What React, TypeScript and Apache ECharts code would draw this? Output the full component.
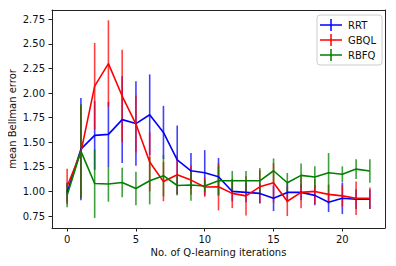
import React, { useEffect, useRef } from "react";
import * as echarts from "echarts";

const iterations = [0, 1, 2, 3, 4, 5, 6, 7, 8, 9, 10, 11, 12, 13, 14, 15, 16, 17, 18, 19, 20, 21, 22];

const rrtMean = [0.99, 1.43, 1.57, 1.58, 1.73, 1.69, 1.78, 1.6, 1.32, 1.21, 1.19, 1.15, 1.0, 0.99, 0.98, 0.93, 0.99, 0.99, 0.96, 0.89, 0.93, 0.92, 0.92];
const rrtErr = [0.1, 0.52, 0.35, 0.33, 0.44, 0.43, 0.41, 0.27, 0.35, 0.18, 0.23, 0.19, 0.1, 0.1, 0.1, 0.13, 0.1, 0.08, 0.1, 0.1, 0.16, 0.1, 0.1];

const gbqlMean = [1.05, 1.4, 2.07, 2.3, 1.97, 1.685, 1.3, 1.1, 1.17, 1.115, 1.045, 1.047, 0.98, 0.955, 1.047, 1.088, 0.9, 0.99, 1.0, 0.97, 0.955, 0.93, 0.93];
const gbqlErr = [0.18, 0.47, 0.44, 0.44, 0.47, 0.29, 0.3, 0.2, 0.2, 0.15, 0.1, 0.24, 0.15, 0.2, 0.17, 0.2, 0.15, 0.16, 0.13, 0.1, 0.11, 0.17, 0.11];

const rbfqMean = [0.96, 1.41, 1.08, 1.075, 1.09, 1.03, 1.108, 1.16, 1.06, 1.065, 1.055, 1.108, 1.108, 1.108, 1.108, 1.21, 1.088, 1.163, 1.146, 1.19, 1.175, 1.227, 1.207];
const rbfqErr = [0.12, 0.48, 0.35, 0.18, 0.15, 0.17, 0.24, 0.21, 0.1, 0.16, 0.06, 0.15, 0.1, 0.1, 0.13, 0.125, 0.1, 0.12, 0.11, 0.2, 0.08, 0.1, 0.12];

const xTicks = [0, 5, 10, 15, 20];
const yTicks = [0.75, 1.0, 1.25, 1.5, 1.75, 2.0, 2.25, 2.5, 2.75];

const seriesDefs = [
  { name: "RRT", mean: rrtMean, err: rrtErr, color: "#0000ff" },
  { name: "GBQL", mean: gbqlMean, err: gbqlErr, color: "#ff0000" },
  { name: "RBFQ", mean: rbfqMean, err: rbfqErr, color: "#008000" },
];

const FONT = "DejaVu Sans";
const legendIcon =
  "path://M0,5.25 L22,5.25 L22,6.75 L0,6.75 Z M10.25,0 L11.75,0 L11.75,12 L10.25,12 Z";

const X_MIN = -1.1;
const X_MAX = 23.1;
const Y_MIN = 0.628;
const Y_MAX = 2.845;

export default function App() {
  const ref = useRef<HTMLDivElement>(null);

  useEffect(() => {
    if (!ref.current) return;
    const chart = echarts.init(ref.current, null, { renderer: "svg" });
    const series: any[] = [];
    seriesDefs.forEach((s) => {
      const color = s.color;
      series.push({
        type: "custom",
        name: s.name + "-err",
        data: iterations.map((x, i) => [x, s.mean[i] - s.err[i], s.mean[i] + s.err[i]]),
        encode: { x: 0, y: [1, 2] },
        renderItem: (params: any, api: any) => {
          const x = api.value(0);
          const p1 = api.coord([x, api.value(1)]);
          const p2 = api.coord([x, api.value(2)]);
          return {
            type: "line",
            shape: { x1: p1[0], y1: p1[1], x2: p2[0], y2: p2[1] },
            style: { stroke: color, lineWidth: 1.6, opacity: 0.75 },
          };
        },
        silent: true,
      });
      series.push({
        type: "line",
        name: s.name,
        data: iterations.map((x, i) => [x, s.mean[i]]),
        showSymbol: false,
        symbol: "none",
        color: color,
        lineStyle: { color: color, width: 1.6 },
        itemStyle: { color: color },
      });
    });

    const frameAxis = {
      type: "value",
      axisLine: { show: true, lineStyle: { color: "#222", width: 1 } },
      axisTick: { show: false },
      axisLabel: { show: false },
      splitLine: { show: false },
    };

    chart.setOption({
      animation: false,
      textStyle: { fontFamily: FONT },
      grid: {
        left: 52,
        right: 11,
        top: 10,
        bottom: 38,
        containLabel: false,
        outerBoundsMode: "none",
      },
      legend: {
        data: seriesDefs.map((s) => ({ name: s.name, icon: legendIcon })),
        orient: "vertical",
        left: 317,
        top: 15,
        width: 63,
        padding: [4, 6, 4, 3],
        itemGap: 3,
        itemWidth: 22,
        itemHeight: 12,
        borderColor: "#ccc",
        borderWidth: 1,
        borderRadius: 3,
        backgroundColor: "rgba(255,255,255,0.8)",
        textStyle: { fontFamily: FONT, fontSize: 10, color: "#111", padding: [0, 0, 0, 1] },
      },
      xAxis: [
        {
          type: "value",
          min: X_MIN,
          max: X_MAX,
          name: "No. of Q-learning iterations",
          nameLocation: "middle",
          nameGap: 19,
          nameMoveOverlap: false,
          nameTextStyle: { fontFamily: FONT, fontSize: 10, color: "#111" },
          axisLine: { show: true, onZero: false, lineStyle: { color: "#222", width: 1 } },
          splitLine: { show: false },
          axisTick: {
            show: true,
            inside: false,
            length: 3.5,
            customValues: xTicks,
            lineStyle: { color: "#222", width: 1 },
          },
          axisLabel: {
            customValues: xTicks,
            margin: 6,
            fontFamily: FONT,
            fontSize: 10,
            color: "#111",
            formatter: (v: number) => String(v),
          },
        },
        { ...frameAxis, position: "top", min: X_MIN, max: X_MAX, axisLine: { ...frameAxis.axisLine, onZero: false } },
      ],
      yAxis: [
        {
          type: "value",
          min: Y_MIN,
          max: Y_MAX,
          name: "mean Bellman error",
          nameLocation: "middle",
          nameGap: 35,
          nameMoveOverlap: false,
          nameTextStyle: { fontFamily: FONT, fontSize: 10, color: "#111" },
          axisLine: { show: true, onZero: false, lineStyle: { color: "#222", width: 1 } },
          splitLine: { show: false },
          axisTick: {
            show: true,
            inside: false,
            length: 3.5,
            customValues: yTicks,
            lineStyle: { color: "#222", width: 1 },
          },
          axisLabel: {
            customValues: yTicks,
            margin: 7,
            fontFamily: FONT,
            fontSize: 10,
            color: "#111",
            formatter: (v: number) => v.toFixed(2),
          },
        },
        { ...frameAxis, position: "right", min: Y_MIN, max: Y_MAX, axisLine: { ...frameAxis.axisLine, onZero: false } },
      ],
      series,
    });
    return () => chart.dispose();
  }, []);

  return <div ref={ref} style={{ width: 396, height: 266, margin: -8 }} />;
}
